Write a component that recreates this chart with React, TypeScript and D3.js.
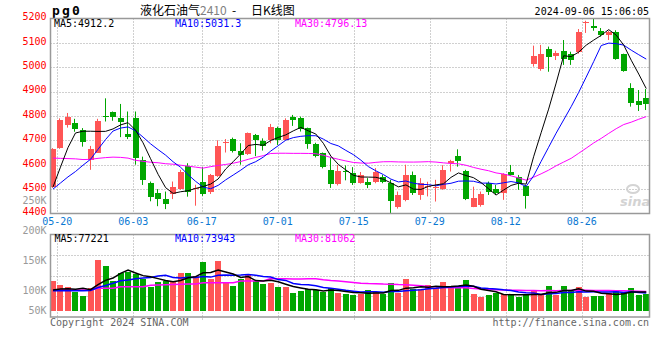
import React from "react";
import * as d3 from "d3";

// ---------- DATA ----------
const openP = [
  4510, 4670, 4763, 4770, 4743, 4620, 4650, 4800, 4815, 4790,
  4725, 4790, 4620, 4527, 4483, 4460, 4479, 4501, 4595, 4500,
  4528, 4490, 4555, 4690, 4705, 4657, 4645, 4722, 4697, 4702,
  4749, 4702, 4795, 4790, 4749, 4685, 4647, 4579, 4521, 4576,
  4568, 4527, 4531, 4528, 4551, 4527, 4426, 4456, 4558, 4476,
  4508, 4503, 4500, 4606, 4636, 4575, 4428, 4435, 4524, 4500,
  4486, 4572, 4551, 4513, 5013, 4992, 5073, 5045, 5066, 5052,
  5063, 5183, 5170, 5148, 5130, 5142, 5052, 4916, 4862, 4875,
];
const highP = [
  4668, 4790, 4812, 4788, 4750, 4677, 4788, 4872, 4818, 4849,
  4818, 4818, 4633, 4531, 4500, 4490, 4531, 4579, 4606, 4518,
  4590, 4562, 4700, 4705, 4711, 4688, 4732, 4726, 4708, 4767,
  4756, 4790, 4804, 4797, 4752, 4690, 4650, 4630, 4599, 4597,
  4590, 4570, 4545, 4586, 4558, 4538, 4490, 4600, 4572, 4545,
  4530, 4538, 4598, 4620, 4663, 4579, 4510, 4490, 4531, 4517,
  4565, 4599, 4558, 4517, 5088, 5091, 5084, 5067, 5111, 5063,
  5156, 5190, 5200, 5160, 5149, 5151, 5055, 4934, 4906, 4910,
];
const lowP = [
  4505, 4665, 4752, 4735, 4674, 4579, 4648, 4777, 4780, 4713,
  4705, 4600, 4517, 4450, 4430, 4418, 4459, 4497, 4469, 4432,
  4472, 4480, 4550, 4650, 4650, 4600, 4640, 4635, 4658, 4688,
  4681, 4700, 4759, 4736, 4665, 4630, 4585, 4505, 4515, 4536,
  4517, 4522, 4504, 4524, 4524, 4402, 4420, 4450, 4476, 4456,
  4470, 4449, 4497, 4572, 4592, 4455, 4426, 4428, 4476, 4476,
  4456, 4554, 4497, 4420, 5002, 4985, 4981, 5029, 5009, 5009,
  5055, 5140, 5149, 5125, 5111, 5030, 4981, 4838, 4820, 4824,
];
const closeP = [
  4665, 4784, 4797, 4745, 4695, 4665, 4780, 4798, 4795, 4777,
  4712, 4626, 4538, 4469, 4458, 4439, 4508, 4572, 4490, 4505,
  4478, 4558, 4677, 4693, 4656, 4638, 4729, 4700, 4675, 4754,
  4700, 4782, 4782, 4747, 4683, 4635, 4592, 4520, 4576, 4570,
  4525, 4557, 4518, 4572, 4530, 4450, 4476, 4558, 4485, 4524,
  4513, 4507, 4580, 4616, 4615, 4460, 4463, 4480, 4490, 4485,
  4562, 4558, 4525, 4472, 5045, 5054, 5043, 5058, 5032, 5028,
  5145, 5186, 5162, 5130, 5145, 5032, 4982, 4852, 4846, 4848,
];
const volume = [
  120500, 103200, 94000, 73900, 60200, 91200, 203600, 180700, 120500, 152600,
  156600, 147400, 127300, 96400, 116500, 120500, 119300, 152600, 152600, 139400,
  196800, 127300, 199600, 114000, 99200, 128500, 143400, 119300, 108400, 112400,
  96400, 96400, 72300, 80300, 87100, 83100, 73900, 90000, 72300, 67000,
  63000, 65900, 83100, 76300, 67000, 112400, 69900, 127300, 85900, 85900,
  103200, 90000, 116500, 90000, 94000, 123300, 67000, 56200, 63000, 72300,
  67000, 63000, 56200, 61800, 79100, 64500, 100000, 63000, 99200, 81000,
  95000, 55000, 59500, 59000, 69900, 83100, 71000, 91000, 63000, 68500,
];

// moving-average values before enough history is visible
const ma5Lead = [4508, 4590, 4670, 4730];
const ma10Lead = [4500, 4525, 4550, 4572, 4598, 4622, 4663, 4703, 4738];
const ma30Lead = [
  4627, 4626, 4625, 4624, 4621, 4622, 4626, 4629, 4631, 4630,
  4627, 4618, 4614, 4610, 4608, 4604, 4602, 4598, 4594, 4590,
  4586, 4592, 4597, 4601, 4606, 4613, 4622, 4630, 4637,
];
const vma5Lead = [83000, 87000, 88000, 86000];
const vma10Lead = [80000, 80500, 81000, 80000, 80000, 81000, 93000, 101000, 110000];
const vma30Lead = [
  83000, 83000, 83000, 83000, 83000, 83000, 90000, 90000, 90000, 96000,
  96000, 96000, 96000, 102000, 103000, 104000, 105000, 106000, 107000, 107000,
  112000, 112000, 112000, 112000, 112000, 119000, 119000, 119000, 119000,
];

const priceTicks = [5200, 5100, 5000, 4900, 4800, 4700, 4600, 4500, 4400];
const dateLabels = ["05-20", "06-03", "06-17", "07-01", "07-15", "07-29", "08-12", "08-26"];
const dateDayOffsets = [0, 10, 19, 29, 39, 49, 59, 69];
const volLabels = ["250K", "200K", "150K", "100K", "50K"];
const volLabelValues = [250000, 200000, 150000, 100000, 50000];

const titleCode = "pg0";
const titleName = "液化石油气";
const titleContract = "2410";
const titleSuffix = "日K线图";
const timeStamp = "2024-09-06 15:06:05";
const priceLegend = ["MA5:4912.2", "MA10:5031.3", "MA30:4796.13"];
const volLegend = ["MA5:77221", "MA10:73943", "MA30:81062"];
const legendColors = ["#000000", "#0000ff", "#ff00ff"];

// ---------- helpers ----------
const RED = "#ff5555";
const GREEN = "#00a600";
const MONO = "'DejaVu Sans Mono', monospace";
const CJK = "'Noto Sans CJK SC', sans-serif";

function movingAvg(values: number[], n: number, lead: number[]): number[] {
  return values.map((_, i) =>
    i < lead.length ? lead[i] : (d3.mean(values.slice(i - n + 1, i + 1)) as number)
  );
}

export default function App() {
  const idx = d3.range(closeP.length);
  const left = 50.5, right = 649.5, top = 18.5, bottom = 213.5;
  const vTop = 234.5, vBottom = 317, vBase = 310.7;

  const x = d3.scaleBand<number>().domain(idx).range([49.2, 650]).paddingInner(0);
  const cx = (i: number) => (x(i) as number) + x.bandwidth() / 2;
  const y = d3.scaleLinear().domain([4400, 5200]).range([213.5, 18.3]);
  const yv = d3.scaleLinear().domain([0, 300000]).range([vBase, 236]);
  const dateX = d3.scaleLinear().domain([0, 69]).range([57.3, 581.7]);
  const volLabelY = d3.scaleLinear().domain([100000, 250000]).range([290.7, 200]);

  const ma5 = movingAvg(closeP, 5, ma5Lead);
  const ma10 = movingAvg(closeP, 10, ma10Lead);
  const ma30 = movingAvg(closeP, 30, ma30Lead);
  const vma5 = movingAvg(volume, 5, vma5Lead);
  const vma10 = movingAvg(volume, 10, vma10Lead);
  const vma30 = movingAvg(volume, 30, vma30Lead);

  const priceLine = d3.line<number>().x((_, i) => cx(i)).y((v) => y(v));
  const volLine = d3.line<number>().x((_, i) => cx(i)).y((v) => yv(v));

  const crisp = (v: number) => Math.round(v) + 0.5;
  const dash = "1 2";
  const gridColor = "#a0a0a0";

  return (
    <svg
      width={660}
      height={360}
      style={{ position: "fixed", left: 0, top: 0, background: "#fff" }}
    >
      <defs>
        <clipPath id="mainClip">
          <rect x={left} y={top - 1} width={right - left} height={bottom - top + 1} />
        </clipPath>
        <clipPath id="volClip">
          <rect x={left} y={vTop} width={right - left} height={vBottom - vTop} />
        </clipPath>
      </defs>
      <rect x={0} y={0} width={660} height={360} fill="#fff" />

      {/* title */}
      <text x={52} y={15} fontFamily={MONO} fontWeight="bold" fontSize={13} letterSpacing={2.2} fill="#000">
        {titleCode}
      </text>
      <text x={140} y={15} fontFamily={CJK} fontSize={12} fill="#000">{titleName}</text>
      <text x={200} y={15} fontFamily={CJK} fontSize={12} fill="#808080">{titleContract}</text>
      <text x={232} y={15} fontFamily={CJK} fontSize={12} fill="#000">-</text>
      <text x={251} y={15} fontFamily={CJK} fontSize={12} fill="#000">{titleSuffix}</text>
      <text x={649} y={15} textAnchor="end" fontFamily={MONO} fontSize={10} fill="#000">{timeStamp}</text>

      {/* main grid */}
      {priceTicks.slice(1, -1).map((p) => (
        <line key={"hg" + p} x1={left} x2={right} y1={crisp(y(p))} y2={crisp(y(p))}
          stroke={gridColor} strokeDasharray={dash} />
      ))}
      {dateDayOffsets.map((d, k) => (
        <g key={"vg" + k}>
          <line x1={crisp(dateX(d))} x2={crisp(dateX(d))} y1={top} y2={bottom}
            stroke={gridColor} strokeDasharray={dash} />
          <line x1={crisp(dateX(d))} x2={crisp(dateX(d))} y1={vTop} y2={vBottom + 3}
            stroke={gridColor} strokeDasharray={dash} />
        </g>
      ))}
      {[1, 2, 3].map((k) => (
        <line key={"vhg" + k} x1={left} x2={right}
          y1={crisp(vTop + ((vBottom - vTop) * k) / 4)} y2={crisp(vTop + ((vBottom - vTop) * k) / 4)}
          stroke={gridColor} strokeDasharray={dash} />
      ))}

      {/* watermark */}
      <g opacity={0.9}>
        <ellipse cx={633} cy={189} rx={6} ry={4} fill="none" stroke="#d0d0d0" strokeWidth={2} />
        <text x={620} y={206} fontFamily="'DejaVu Sans', sans-serif" fontStyle="italic"
          fontWeight="bold" fontSize={13} fill="#cfcfcf">sina</text>
      </g>

      {/* candles */}
      <g clipPath="url(#mainClip)">
        {idx.map((i) => {
          const o = openP[i], c = closeP[i];
          const col = c > o ? RED : GREEN;
          const bx = Math.round(cx(i) - 3);
          const yTop = Math.round(y(Math.max(o, c)));
          const yBot = Math.round(y(Math.min(o, c)));
          return (
            <g key={"c" + i}>
              <line x1={bx + 2.5} x2={bx + 2.5} y1={y(highP[i])} y2={y(lowP[i])} stroke={col} strokeWidth={1} />
              <rect x={bx} y={yTop} width={6} height={Math.max(1, yBot - yTop)} fill={col} />
            </g>
          );
        })}
        <path d={priceLine(ma30) || ""} fill="none" stroke="#ff00ff" strokeWidth={1} />
        <path d={priceLine(ma10) || ""} fill="none" stroke="#0000ff" strokeWidth={1} />
        <path d={priceLine(ma5) || ""} fill="none" stroke="#000000" strokeWidth={1} />
      </g>

      {/* main frame */}
      <rect x={left} y={top} width={right - left} height={bottom - top} fill="none" stroke="#999" strokeWidth={1.5} />

      {/* price legend */}
      {priceLegend.map((t, k) => (
        <text key={"pl" + k} x={[54, 175, 295][k]} y={26.5} fontFamily={MONO} fontSize={10} fill={legendColors[k]}>{t}</text>
      ))}

      {/* y labels */}
      {priceTicks.map((p) => (
        <text key={"yl" + p} x={46.5} y={y(p) + 1.8} textAnchor="end" fontFamily={MONO} fontSize={10} fill="#ff0000">{p}</text>
      ))}
      {volLabels.map((t, k) => (
        <text key={"vl" + k} x={46.5} y={Math.min(volLabelY(volLabelValues[k]), 310.5) + 3.6}
          textAnchor="end" fontFamily={MONO} fontSize={10} fill="#999">{t}</text>
      ))}

      {/* x labels */}
      {dateLabels.map((t, k) => (
        <text key={"xl" + k} x={dateX(dateDayOffsets[k])} y={225} textAnchor="middle" fontFamily={MONO} fontSize={10} fill="#0a78d2">{t}</text>
      ))}

      {/* volume */}
      <g clipPath="url(#volClip)">
        {idx.map((i) => {
          const col = closeP[i] > openP[i] ? RED : GREEN;
          const bx = Math.round(cx(i) - 3);
          const yt = Math.round(yv(volume[i]));
          return <rect key={"v" + i} x={bx} y={yt} width={6} height={Math.round(vBase) - yt} fill={col} />;
        })}
        <path d={volLine(vma30) || ""} fill="none" stroke="#ff00ff" strokeWidth={1.5} />
        <path d={volLine(vma10) || ""} fill="none" stroke="#0000ff" strokeWidth={1.5} />
        <path d={volLine(vma5) || ""} fill="none" stroke="#000000" strokeWidth={1.5} />
      </g>
      <rect x={left} y={vTop} width={right - left} height={vBottom - vTop} fill="none" stroke="#999" strokeWidth={1.5} />
      {volLegend.map((t, k) => (
        <text key={"vlg" + k} x={[54.5, 175, 295][k]} y={241.5} fontFamily={MONO} fontSize={10} fill={legendColors[k]}>{t}</text>
      ))}

      {/* footer */}
      <text x={50} y={326} fontFamily={MONO} fontSize={10} fill="#666">Copyright 2024 SINA.COM</text>
      <text x={649} y={326} textAnchor="end" fontFamily={MONO} fontSize={10} fill="#666">http://finance.sina.com.cn</text>
    </svg>
  );
}
